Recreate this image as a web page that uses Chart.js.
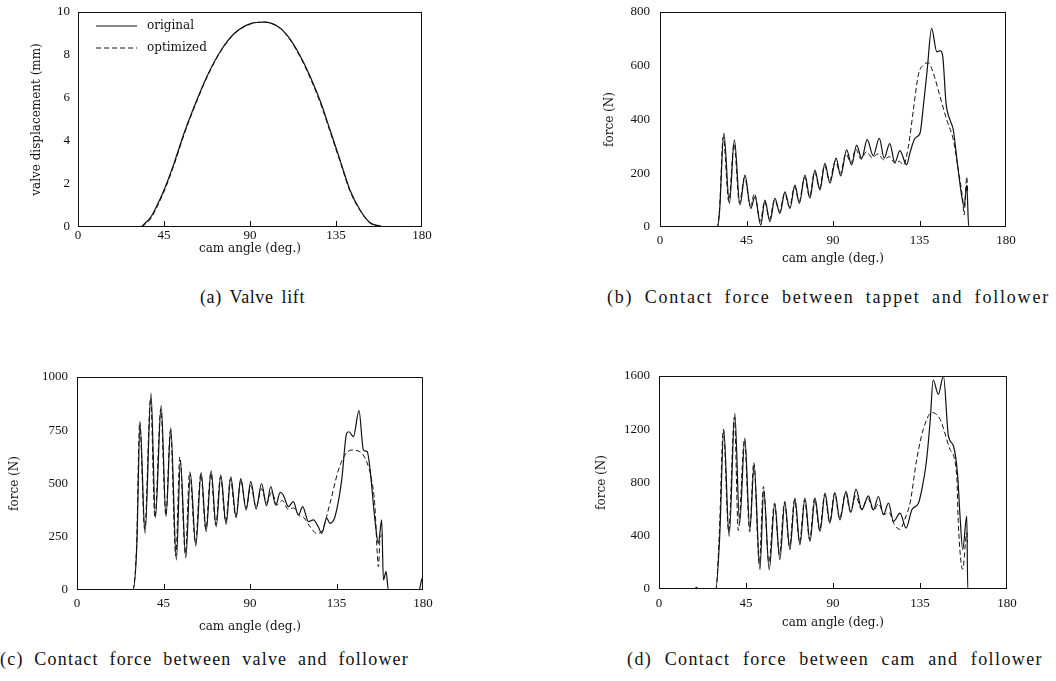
<!DOCTYPE html>
<html>
<head>
<meta charset="utf-8">
<script src="https://cdn.jsdelivr.net/npm/chart.js@4.4.1/dist/chart.umd.min.js"></script>
<style>
body { margin: 0; background: #fff; width: 1056px; height: 681px; position: relative; overflow: hidden; }
.box { position: absolute; }
.cap { position: absolute; font-family: "Liberation Serif", serif; font-size: 18px; line-height: 20px; color: #111;
       text-align: justify; text-align-last: justify; }
</style>
</head>
<body>
<div class="box" style="left:0;top:0;width:440px;height:262px"><canvas id="chartA"></canvas></div>
<div class="box" style="left:590px;top:0;width:466px;height:268px"><canvas id="chartB"></canvas></div>
<div class="box" style="left:0;top:360px;width:440px;height:280px"><canvas id="chartC"></canvas></div>
<div class="box" style="left:590px;top:360px;width:466px;height:280px"><canvas id="chartD"></canvas></div>

<div class="cap" style="left:200px;top:287px;width:105px;letter-spacing:0.6px">(a) Valve lift</div>
<div class="cap" style="left:607px;top:287px;width:443px;letter-spacing:1.8px">(b) Contact force between tappet and follower</div>
<div class="cap" style="left:0;top:649px;width:409px;letter-spacing:1.2px">(c) Contact force between valve and follower</div>
<div class="cap" style="left:627px;top:649px;width:416px;letter-spacing:1.4px">(d) Contact force between cam and follower</div>

<script>
// cam angle ticks
var xTicks = [0, 45, 90, 135, 180];
var innerTicks = [45, 90, 135];

// (a) valve lift (mm)
var aTicks = [0, 2, 4, 6, 8, 10];
var aX = [0, 32.7, 34.4, 38, 40.5, 44.9, 50.2, 55.4, 60.7, 67.7, 74.7, 81.6, 90.4, 97.4, 105, 110, 116, 122, 127, 131.9, 137.1, 142.3, 147.6, 152.8, 158, 160.6, 180];
var aOrig = [0, 0, 0.12, 0.45, 0.85, 1.7, 2.95, 4.34, 5.58, 7.05, 8.2, 8.99, 9.46, 9.53, 9.3, 8.85, 8.0, 6.9, 5.8, 4.51, 3.12, 1.72, 0.79, 0.2, 0.05, 0, 0];
var aOpt = [0, 0, 0.08, 0.38, 0.78, 1.62, 2.87, 4.27, 5.52, 7.0, 8.17, 8.97, 9.45, 9.53, 9.3, 8.83, 7.95, 6.83, 5.72, 4.43, 3.05, 1.67, 0.76, 0.18, 0.04, 0, 0];

// (b) tappet / follower force (N)
var bTicks = [0, 200, 400, 600, 800];
var bOrigX = [0, 29.8, 31, 33.2, 36.1, 38.7, 41.6, 44.2, 47.2, 49.4, 52.4, 54.6, 57.2, 59.8, 62.4, 65, 67.6, 70.2, 72.5, 75.4, 78, 80.6, 83.2, 85.8, 88.4, 91.6, 94, 97.1, 99.7, 102.3, 104.9, 107.8, 110.9, 114.1, 116.6, 119.5, 122.2, 124.8, 128.3, 130, 132.7, 135.3, 136.9, 139, 141.3, 144, 145.7, 147.1, 148.8, 150.9, 152.6, 154.7, 157, 158.2, 159.6, 160.6, 180];
var bOrig = [0, 0, 60, 349, 88, 324, 82, 193, 69, 113, 7, 100, 20, 107, 51, 131, 69, 156, 88, 193, 107, 212, 138, 237, 163, 256, 190, 287, 231, 305, 255, 325, 265, 330, 256, 310, 240, 284, 231, 275, 331, 350, 443, 584, 739, 652, 656, 634, 461, 398, 361, 237, 113, 76, 156, 1, 0];
var bOptX = [0, 29.8, 31, 32.9, 35.8, 38.5, 41.3, 44, 47, 49.2, 52.2, 54.4, 57, 59.6, 62.2, 64.8, 67.4, 70, 72.4, 75.2, 77.8, 80.4, 83, 85.6, 88.2, 91.2, 93.8, 96.7, 99.4, 101.8, 104.6, 107.4, 110.4, 113.4, 116.4, 119.4, 122.3, 124.5, 126.6, 129.2, 131.8, 134.4, 137, 139.6, 142.2, 145.7, 149.2, 152.6, 155.2, 157.5, 158.2, 159.6, 160.1];
var bOpt = [0, 0, 70, 335, 95, 310, 90, 185, 80, 125, 22, 95, 30, 102, 58, 125, 75, 150, 95, 185, 112, 205, 145, 228, 172, 245, 200, 272, 238, 290, 252, 280, 258, 272, 250, 262, 237, 245, 231, 299, 435, 566, 603, 611, 572, 485, 398, 324, 212, 100, 45, 187, 126];

// (c) valve / follower force (N)
var cTicks = [0, 250, 500, 750, 1000];
var cOrigX = [0, 29, 31.1, 32.8, 35.4, 38.5, 40.8, 43.8, 46.3, 48.8, 51.7, 53.8, 56.6, 59, 61.8, 64.6, 67.2, 69.8, 72.4, 74.8, 77.6, 80, 82.8, 85.2, 88, 90.4, 93.2, 96, 98.6, 100.8, 103.4, 105.7, 107.3, 110, 112.5, 115.2, 117.4, 120.4, 123, 125.5, 127.3, 129.9, 131.6, 134.2, 137.7, 140.3, 141.5, 143.8, 146.7, 149, 151, 152.4, 155, 156.8, 158.5, 159.4, 160.8, 162, 178, 179.2, 180];
var cOrig = [0, 0, 203, 781, 266, 925, 340, 867, 344, 761, 141, 605, 150, 547, 207, 551, 274, 559, 297, 539, 309, 531, 340, 523, 376, 510, 381, 500, 396, 486, 398, 458, 446, 391, 415, 352, 391, 321, 329, 297, 266, 337, 313, 344, 516, 736, 743, 720, 842, 657, 649, 571, 329, 219, 329, 47, 86, 0, 0, 45, 60];
var cOptX = [0, 29, 31, 32.6, 35.2, 38.3, 40.5, 43.6, 46.2, 48.6, 51.4, 53.5, 56.4, 58.6, 61.6, 64.4, 67, 69.6, 72.2, 74.6, 77.4, 79.8, 82.6, 85.2, 88, 90.4, 93.2, 96, 98.7, 101.3, 104, 106.8, 109.8, 112.6, 115.5, 118, 121, 124.7, 127.3, 131.6, 136, 139.4, 142.9, 147.2, 150.7, 153.3, 155, 156.2, 156.8, 157.6, 158.5];
var cOpt = [0, 0, 210, 790, 285, 900, 340, 850, 350, 750, 160, 625, 170, 555, 220, 545, 285, 550, 305, 530, 320, 520, 345, 515, 385, 490, 390, 475, 410, 460, 400, 420, 380, 385, 350, 340, 300, 266, 275, 407, 563, 634, 657, 649, 602, 516, 391, 172, 109, 235, 260];

// (d) cam / follower force (N)
var dTicks = [0, 400, 800, 1200, 1600];
var dOrigX = [0, 18.5, 19.3, 20.2, 29.4, 31.4, 33.5, 36.3, 39.2, 41.7, 44.4, 47, 49.2, 52.2, 54.2, 57, 59.9, 62.5, 65.1, 67.7, 70.3, 72.9, 75.5, 78.1, 80.7, 83.3, 85.9, 88.4, 91, 93.6, 96.7, 99.2, 101.9, 104.9, 108.3, 110.9, 113.5, 116.1, 118.7, 121.3, 124.7, 127.8, 130.8, 134.2, 135.9, 138.2, 140.3, 141.8, 144.5, 147.1, 149.7, 152.3, 154.5, 155.7, 157.1, 159.2, 159.7, 180];
var dOrig = [0, 0, 12, 0, 0, 395, 1195, 395, 1320, 495, 1133, 445, 933, 145, 745, 145, 645, 220, 658, 295, 683, 333, 683, 358, 683, 433, 720, 495, 725, 520, 733, 575, 750, 595, 700, 595, 695, 558, 645, 508, 570, 458, 595, 645, 745, 945, 1270, 1570, 1462, 1600, 1150, 1074, 850, 548, 298, 548, 0, 0];
var dOptX = [0, 29.4, 31.2, 33.3, 36, 39, 41, 44.2, 46.9, 49, 51.9, 54, 56.8, 59.7, 62.3, 64.9, 67.5, 70.1, 72.7, 75.3, 77.9, 80.5, 83.1, 85.7, 88.2, 90.8, 93.4, 96.5, 99, 101.7, 104.7, 108, 111, 113.5, 116.5, 119, 121.5, 124.7, 127, 129.9, 133.3, 136.7, 141.1, 145.4, 150.5, 154, 154.8, 157.1, 159.2, 159.6];
var dOpt = [0, 0, 420, 1200, 430, 1290, 440, 1120, 430, 950, 190, 770, 200, 640, 260, 650, 320, 670, 350, 670, 370, 680, 440, 710, 500, 720, 530, 720, 580, 700, 600, 680, 590, 640, 560, 575, 490, 448, 520, 649, 974, 1200, 1325, 1275, 1050, 849, 498, 148, 423, 350];

var ink = '#111';
var tickFont = { family: '"Liberation Serif", serif', size: 13 };
var titleFont = { family: '"DejaVu Serif", serif', size: 12 };

function lineSet(label, xs, ys, dashed) {
    return {
        label: label,
        data: xs.map(function (x, i) { return { x: x, y: ys[i] }; }),
        borderColor: ink,
        borderWidth: dashed ? 1 : 1.2,
        borderDash: dashed ? [5, 3] : [],
        pointRadius: 0,
        cubicInterpolationMode: 'monotone',
        fill: false
    };
}

// box round the plot and the little inside ticks on the bottom axis
var framePlugin = {
    id: 'frame',
    afterDraw: function (chart) {
        var a = chart.chartArea, ctx = chart.ctx, sx = chart.scales.x;
        ctx.save();
        ctx.strokeStyle = ink;
        ctx.lineWidth = 1;
        ctx.strokeRect(a.left + 0.5, a.top + 0.5, a.right - a.left - 1, a.bottom - a.top - 1);
        innerTicks.forEach(function (v) {
            var px = Math.round(sx.getPixelForValue(v)) + 0.5;
            ctx.beginPath();
            ctx.moveTo(px, a.bottom);
            ctx.lineTo(px, a.bottom - 6);
            ctx.stroke();
        });
        ctx.restore();
    }
};

var legendPlugin = {
    id: 'innerLegend',
    afterDatasetsDraw: function (chart) {
        var a = chart.chartArea, ctx = chart.ctx;
        chart.data.datasets.forEach(function (ds, i) {
            var y = a.top + 14 + i * 22;
            ctx.save();
            ctx.strokeStyle = ds.borderColor;
            ctx.lineWidth = ds.borderWidth;
            ctx.setLineDash(ds.borderDash);
            ctx.beginPath();
            ctx.moveTo(a.left + 18, y);
            ctx.lineTo(a.left + 59, y);
            ctx.stroke();
            ctx.setLineDash([]);
            ctx.fillStyle = ink;
            ctx.font = '12px "DejaVu Serif"';
            ctx.textBaseline = 'middle';
            ctx.fillText(ds.label, a.left + 69, y);
            ctx.restore();
        });
    }
};

function makeChart(id, p) {
    var plugins = [framePlugin];
    if (p.legend) plugins.push(legendPlugin);
    return new Chart(document.getElementById(id), {
        type: 'line',
        data: { datasets: [lineSet('original', p.origX, p.orig, false), lineSet('optimized', p.optX, p.opt, true)] },
        plugins: plugins,
        options: {
            responsive: true,
            maintainAspectRatio: false,
            animation: false,
            layout: { padding: p.pad },
            plugins: { legend: { display: false }, tooltip: { enabled: false } },
            scales: {
                x: {
                    type: 'linear', min: 0, max: 180,
                    afterBuildTicks: function (s) { s.ticks = xTicks.map(function (v) { return { value: v }; }); },
                    ticks: { padding: p.xTickPad, color: ink, font: tickFont, maxRotation: 0, autoSkip: false,
                             callback: function (v) { return String(v); } },
                    grid: { display: false, drawTicks: false },
                    border: { display: false },
                    title: { display: true, text: 'cam angle (deg.)', color: ink, font: titleFont,
                             padding: { top: 0, bottom: p.xTitlePad } },
                    afterFit: function (s) { s.height = p.xHeight; s.paddingLeft = 0; s.paddingRight = 0; }
                },
                y: {
                    type: 'linear', min: 0, max: p.ticks[p.ticks.length - 1],
                    afterBuildTicks: function (s) { s.ticks = p.ticks.map(function (v) { return { value: v }; }); },
                    ticks: { padding: p.yTickPad, color: ink, font: tickFont, autoSkip: false,
                             callback: function (v) { return String(v); } },
                    grid: { display: false, drawTicks: false },
                    border: { display: false },
                    title: { display: true, text: p.yTitle, color: ink, font: titleFont,
                             padding: { top: p.yTitlePad, bottom: 0 } },
                    afterFit: function (s) { s.width = p.yWidth; s.paddingTop = 0; s.paddingBottom = 0; }
                }
            }
        }
    });
}

makeChart('chartA', {
    origX: aX, orig: aOrig, optX: aX, opt: aOpt, ticks: aTicks, legend: true,
    yTitle: 'valve displacement (mm)',
    pad: { top: 12, right: 18, left: 0, bottom: 0 },
    yWidth: 78, xHeight: 35, yTitlePad: 30, yTickPad: 8, xTickPad: 1, xTitlePad: 5.5
});
makeChart('chartB', {
    origX: bOrigX, orig: bOrig, optX: bOptX, opt: bOpt, ticks: bTicks,
    yTitle: 'force (N)',
    pad: { top: 12, right: 50, left: 0, bottom: 0 },
    yWidth: 70, xHeight: 41, yTitlePad: 12.8, yTickPad: 10, xTickPad: 6, xTitlePad: 1.8
});
makeChart('chartC', {
    origX: cOrigX, orig: cOrig, optX: cOptX, opt: cOpt, ticks: cTicks,
    yTitle: 'force (N)',
    pad: { top: 17, right: 17, left: 0, bottom: 0 },
    yWidth: 77, xHeight: 50, yTitlePad: 7.8, yTickPad: 9, xTickPad: 6, xTitlePad: 5.8
});
makeChart('chartD', {
    origX: dOrigX, orig: dOrig, optX: dOptX, opt: dOpt, ticks: dTicks,
    yTitle: 'force (N)',
    pad: { top: 16, right: 49, left: 0, bottom: 0 },
    yWidth: 69, xHeight: 51, yTitlePad: 4.8, yTickPad: 9, xTickPad: 7, xTitlePad: 9.8
});
</script>
</body>
</html>
